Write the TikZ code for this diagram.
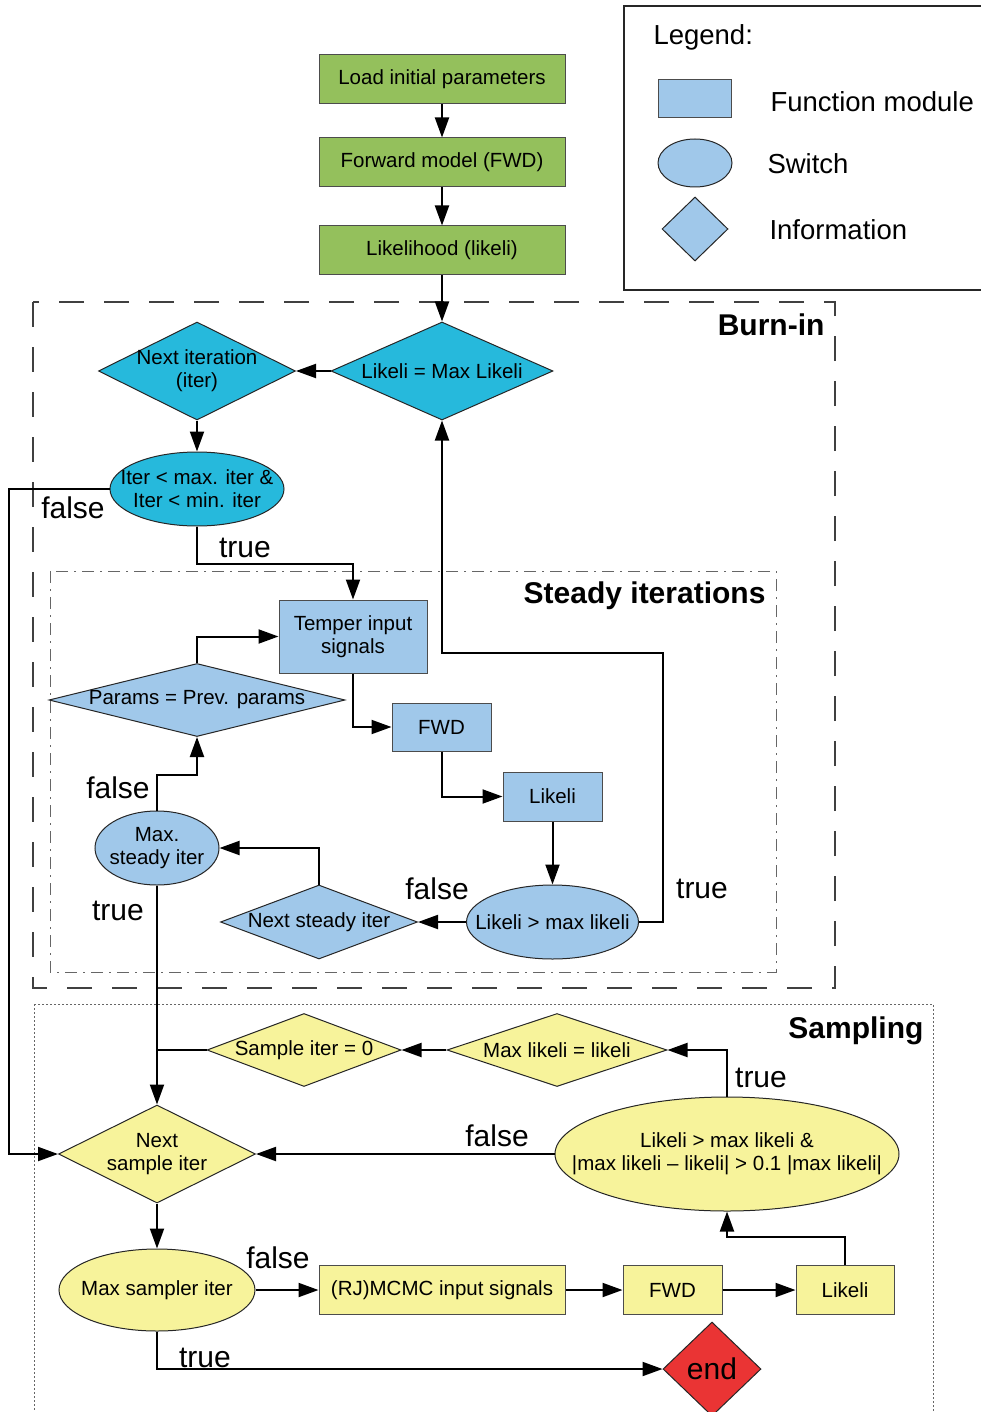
\documentclass[tikz,border=0pt]{standalone}
\usepackage{fontspec}
\setmainfont{Liberation Sans}
\usepackage{xcolor}
\usetikzlibrary{shapes.geometric,arrows.meta,positioning}

\definecolor{startgreen}{RGB}{148,192,92}
\definecolor{burncyan}{RGB}{38,185,220}
\definecolor{modblue}{RGB}{160,200,234}
\definecolor{sampyellow}{RGB}{247,243,155}
\definecolor{endred}{RGB}{234,52,52}

\begin{document}
\begin{tikzpicture}
      [ x=1pt, y=-1pt,
        txt/.style={font=\fontsize{20.5}{23}\selectfont, align=center},
        module/.style={rectangle, draw=black!70, line width=1pt, inner sep=0pt, txt},
        switch/.style={ellipse, draw=black!85, line width=1pt, inner sep=0pt,
                       label={[txt]center:#1}},
        info/.style={diamond, draw=black!85, line width=1pt, inner sep=0pt,
                     label={[txt]center:#1}},
        flag/.style={font=\fontsize{30}{36}\selectfont},
        frametitle/.style={font=\fontsize{30}{36}\selectfont\bfseries, anchor=east},
        legtext/.style={font=\fontsize{27.5}{32}\selectfont, anchor=west},
        arr/.style={line width=2pt, -{Triangle[length=20pt,width=14pt]}},
        link/.style={line width=2pt}
      ]
      \useasboundingbox (0,0) rectangle (980,1412);

      % frames
      \draw[black!75, line width=1.2pt, dash pattern=on 25pt off 20pt] (33,302) rectangle (835,988);
      \draw[black!60, line width=1pt, dash pattern=on 12pt off 6pt on 2pt off 6pt] (50,571) rectangle (776,972);
      \draw[black!60, line width=1pt, dash pattern=on 2pt off 2pt] (34,1004) rectangle (933,1440);
      \node[frametitle] (burnin)  at (828,325)  {Burn-in};
      \node[frametitle] (steady)  at (769,596)  {Steady iterations};
      \node[frametitle] (sampling) at (927,1031) {Sampling};

      % legend
      \draw[black!85, line width=1.5pt] (624,6) rectangle (1000,290);
      \node[legtext] (legend) at (650,37) {Legend:};
      \node[module, fill=modblue, minimum width=73pt, minimum height=38pt] (legmod) at (694.5,99) {};
      \node[ellipse, draw=black!85, line width=1pt, fill=modblue, minimum width=74pt, minimum height=48pt] (legsw) at (695,163) {};
      \node[diamond, draw=black!85, line width=1pt, fill=modblue, minimum width=66pt, minimum height=64pt] (leginfo) at (695,229) {};
      \node[legtext] (legmodtxt)  at (767,102) {Function module};
      \node[legtext] (legswtxt)   at (764,164) {Switch};
      \node[legtext] (leginfotxt) at (766,230) {Information};

      % start
      \node[module, fill=startgreen, minimum width=246pt, minimum height=49pt] (load) at (442,79.5) {Load initial parameters};
      \node[module, fill=startgreen, minimum width=246pt, minimum height=49pt] (fwdinit) [below=33pt of load] {Forward model (FWD)};
      \node[module, fill=startgreen, minimum width=246pt, minimum height=49pt] (likinit) [below=38pt of fwdinit] {Likelihood (likeli)};

      % burn-in
      \node[info={Likeli = Max Likeli}, fill=burncyan, minimum width=222pt, minimum height=98pt] (maxlik) at (442,371) {};
      \node[info={Next iteration\\(iter)}, fill=burncyan, minimum width=197pt, minimum height=98pt] (nextit) at (197,371) {};
      \node[switch={Iter < max. iter \&\\Iter < min. iter}, fill=burncyan, minimum width=174pt, minimum height=74pt] (itercheck) at (197,489) {};

      % steady iterations
      \node[module, fill=modblue, minimum width=148pt, minimum height=73pt] (temper) at (353,636.5) {Temper input\\signals};
      \node[info={Params = Prev. params}, fill=modblue, minimum width=296pt, minimum height=73pt] (params) at (197,700) {};
      \node[module, fill=modblue, minimum width=99pt, minimum height=48pt] (fwdst) at (441.5,727) {FWD};
      \node[module, fill=modblue, minimum width=99pt, minimum height=49pt] (likst) at (552.5,796.5) {Likeli};
      \node[switch={Likeli > max likeli}, fill=modblue, minimum width=172pt, minimum height=74pt] (likcheck) at (552.5,922) {};
      \node[info={Next steady iter}, fill=modblue, minimum width=197pt, minimum height=74pt] (nextst) at (319,922) {};
      \node[switch={Max.\\steady iter}, fill=modblue, minimum width=124pt, minimum height=74pt] (maxst) at (157,848) {};
      \coordinate (trueturn) at (663,653);

      % sampling
      \node[info={Sample iter = 0}, fill=sampyellow, minimum width=194pt, minimum height=73pt] (zero) at (304,1050) {};
      \node[info={Max likeli = likeli}, fill=sampyellow, minimum width=220pt, minimum height=73pt] (setmax) at (557,1050) {};
      \node[switch={Likeli > max likeli \&\\|max likeli -- likeli| > 0.1 |max likeli|}, fill=sampyellow, minimum width=344pt, minimum height=114pt] (accept) at (727,1154) {};
      \node[info={Next\\sample iter}, fill=sampyellow, minimum width=197pt, minimum height=98pt] (nextsamp) at (157,1154) {};
      \node[switch={Max sampler iter}, fill=sampyellow, minimum width=196pt, minimum height=82pt] (maxsamp) at (157,1290) {};
      \node[module, fill=sampyellow, minimum width=246pt, minimum height=49pt] (mcmc) at (442,1290) {(RJ)MCMC input signals};
      \node[module, fill=sampyellow, minimum width=99pt, minimum height=49pt] (fwdsamp) [right=57pt of mcmc] {FWD};
      \node[module, fill=sampyellow, minimum width=98pt, minimum height=49pt] (liksamp) [right=73pt of fwdsamp] {Likeli};
      \node[diamond, draw=black!85, line width=1pt, fill=endred, inner sep=0pt, minimum width=98pt, minimum height=94pt,
            font=\fontsize{30}{36}\selectfont] (stop) at (712,1369) {end};

      % connectors
      \path[arr] (load)     edge (fwdinit)
                 (fwdinit)  edge (likinit)
                 (likinit)  edge (maxlik)
                 (maxlik)   edge (nextit)
                 (nextit)   edge (itercheck)
                 (likst)    edge (likcheck)
                 (likcheck) edge (nextst)
                 (setmax)   edge (zero)
                 (accept)   edge (nextsamp)
                 (nextsamp) edge (maxsamp)
                 (maxsamp)  edge (mcmc)
                 (mcmc)     edge (fwdsamp)
                 (fwdsamp)  edge (liksamp);
      \draw[arr] (itercheck.west) -- ++(-101,0) |- (nextsamp.west);
      \draw[arr] (itercheck.south) -- ++(0,37) -| (temper.north);
      \draw[arr] (params.north) |- (temper.west);
      \draw[arr] (temper.south) |- (fwdst.west);
      \draw[arr] (fwdst.south) |- (likst.west);
      \draw[arr] (likcheck.east) -| (trueturn) -| (maxlik.south);
      \draw[arr] (nextst.north) |- (maxst.east);
      \draw[arr] (maxst.north) -- ++(0,-36) -| (params.south);
      \draw[arr] (maxst.south) -- (nextsamp.north);
      \draw[link] (zero.west) -- (zero.west -| maxst.south);
      \draw[arr] (accept.north) |- (setmax.east);
      \draw[arr] (liksamp.north) -- ++(0,-28) -| (accept.south);
      \draw[arr] (maxsamp.south) |- (stop.west);

      % branch labels
      \node[flag] (itfalse)   at (73,508)   {false};
      \node[flag] (ittrue)    at (245,548)  {true};
      \node[flag] (likfalse)  at (437,889)  {false};
      \node[flag] (liktrue)   at (702,889)  {true};
      \node[flag] (stfalse)   at (118,788)  {false};
      \node[flag] (sttrue)    at (118,911)  {true};
      \node[flag] (acctrue)   at (761,1078) {true};
      \node[flag] (accfalse)  at (497,1136) {false};
      \node[flag] (sampfalse) at (278,1258) {false};
      \node[flag] (samptrue)  at (205,1358) {true};
\end{tikzpicture}
\end{document}
